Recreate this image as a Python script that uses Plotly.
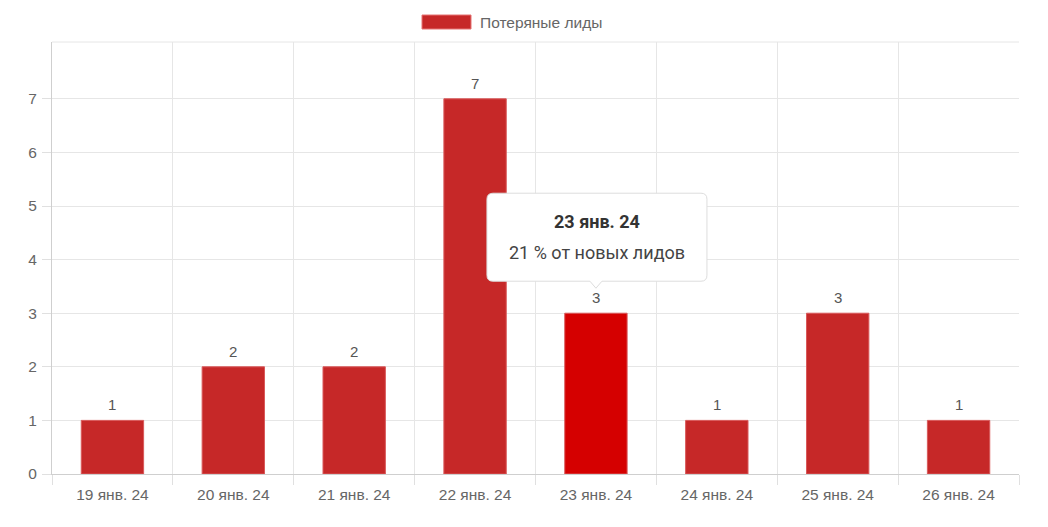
import plotly.graph_objects as go

categories = ["19 янв. 24", "20 янв. 24", "21 янв. 24", "22 янв. 24",
              "23 янв. 24", "24 янв. 24", "25 янв. 24", "26 янв. 24"]
lost_leads = [1, 2, 2, 7, 3, 1, 3, 1]
series_name = "Потеряные лиды"
y_ticks = [0, 1, 2, 3, 4, 5, 6, 7]
hover_index = 4
tooltip_title = "23 янв. 24"
tooltip_body = "21 % от новых лидов"

BASE = "#C62828"
HOVER = "#D50000"
colors = [HOVER if i == hover_index else BASE for i in range(len(categories))]

FONT = "Liberation Sans, Arial"
# page has 8px body margin; plot area target: x 52..1019, y 42..474
W, H = 1040, 519
ML, MR, MT, MB = 44, 29, 34, 53
PW, PH = W - ML - MR, H - MT - MB

def px_x(x):  # absolute screen x -> paper
    return (x - 8 - ML) / PW

def px_y(y):  # absolute screen y -> paper
    return (H - MB - (y - 8)) / PH

fig = go.Figure()
fig.add_trace(go.Bar(
    x=categories, y=lost_leads, marker=dict(color=colors, line=dict(color="#d9595a", width=1)),
    name=series_name, showlegend=False, hoverinfo="skip",
))

# value labels
for c, v in zip(categories, lost_leads):
    fig.add_annotation(x=c, y=v, text=str(v), showarrow=False, yanchor="bottom", yshift=5,
                       font=dict(family=FONT, size=15, color="#555"))

# legend (drawn)
fig.add_shape(type="rect", xref="paper", yref="paper", x0=px_x(422), x1=px_x(471),
              y0=px_y(29), y1=px_y(15),
              fillcolor=BASE, line=dict(color="#e57373", width=1))
fig.add_annotation(xref="paper", yref="paper", x=px_x(478), y=px_y(22),
                   xanchor="left", yanchor="middle", text=series_name, showarrow=False,
                   font=dict(family=FONT, size=15.5, color="#666"))

# tooltip box with caret (pixel-sized relative to hovered bar top)
L, R, T, B, r, tip, cw = -109, 111, 120, 32, 6, 25, 6
path = (f"M {L+r},{T} L {R-r},{T} Q {R},{T} {R},{T-r} L {R},{B+r} Q {R},{B} {R-r},{B} "
        f"L {cw},{B} L 0,{tip} L {-cw},{B} L {L+r},{B} Q {L},{B} {L},{B+r} "
        f"L {L},{T-r} Q {L},{T} {L+r},{T} Z")
fig.add_shape(type="path", xref="x", yref="y", xsizemode="pixel", ysizemode="pixel",
              xanchor=categories[hover_index], yanchor=lost_leads[hover_index],
              path=path, fillcolor="white", line=dict(color="#dddddd", width=1), layer="above")
fig.add_annotation(x=categories[hover_index], y=lost_leads[hover_index], text=f"<b>{tooltip_title}</b>",
                   showarrow=False, yanchor="middle", yshift=92, xshift=1,
                   font=dict(family="Roboto", size=18, color="#333"))
fig.add_annotation(x=categories[hover_index], y=lost_leads[hover_index], text=tooltip_body,
                   showarrow=False, yanchor="middle", yshift=61, xshift=1,
                   font=dict(family="Roboto", size=18, color="#444"))

fig.update_layout(
    width=W, height=H, autosize=False,
    margin=dict(l=ML, r=MR, t=MT, b=MB),
    paper_bgcolor="white", plot_bgcolor="white",
    bargap=0.484,
    xaxis=dict(type="category", tickson="boundaries", showgrid=True, gridcolor="#e6e6e6",
               ticks="outside", ticklen=10, tickcolor="#e0e0e0", showline=True,
               linecolor="#cfcfcf", linewidth=1, mirror=False, ticklabelstandoff=6,
               tickfont=dict(family=FONT, size=15.5, color="#666"),
               zeroline=False, fixedrange=True),
    yaxis=dict(range=[0, 8.06], tickvals=y_ticks, showgrid=True, gridcolor="#e6e6e6",
               ticks="outside", ticklen=9, tickcolor="#e0e0e0", showline=True,
               linecolor="#cfcfcf", linewidth=1, zeroline=False, ticklabelstandoff=2,
               tickfont=dict(family=FONT, size=15.5, color="#666"),
               fixedrange=True),
    showlegend=False,
)
# top gridline at plot top
fig.add_shape(type="line", xref="paper", yref="paper", x0=0, x1=1, y0=1, y1=1,
              line=dict(color="#e6e6e6", width=1), layer="below")

fig.write_html("out.html")
